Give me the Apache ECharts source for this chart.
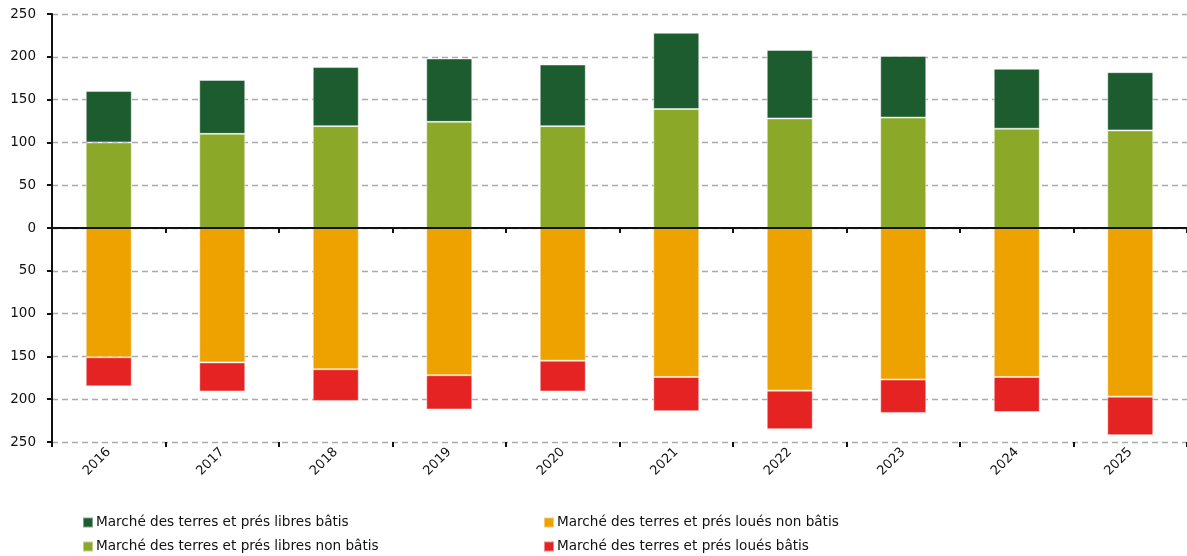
<!DOCTYPE html>
<html>
<head>
<meta charset="utf-8">
<script src="https://cdn.jsdelivr.net/npm/echarts@6/dist/echarts.min.js"></script>
<style>
  html, body { margin: 0; padding: 0; background: #fff; }
  #chart { width: 1187px; height: 556px; }
</style>
</head>
<body>
<div id="chart"></div>
<script>
// Années
const years = ['2016', '2017', '2018', '2019', '2020', '2021', '2022', '2023', '2024', '2025'];

// Marchés libres (au-dessus de zéro)
const libresNonBatis = [100, 110, 119, 124, 119, 139, 128, 129, 116, 114];
const libresBatis    = [60, 63, 69, 74, 72, 89, 80, 72, 70, 68];

// Marchés loués (en dessous de zéro)
const louesNonBatis = [-151, -157, -165, -172, -155, -174, -190, -177, -174, -197];
const louesBatis    = [-34, -34, -37, -40, -36, -40, -45, -39, -41, -45];

const names = {
  libresBatis: 'Marché des terres et prés libres bâtis',
  libresNonBatis: 'Marché des terres et prés libres non bâtis',
  louesNonBatis: 'Marché des terres et prés loués non bâtis',
  louesBatis: 'Marché des terres et prés loués bâtis'
};

const colors = {
  libresBatis: '#1C5C2E',
  libresNonBatis: '#8BA828',
  louesNonBatis: '#EEA200',
  louesBatis: '#E42322'
};

const FONT = 'DejaVu Sans';

function barSeries(key, data) {
  return {
    name: names[key],
    type: 'bar',
    stack: 'total',
    data: data,
    barWidth: 46,
    itemStyle: { color: colors[key], borderColor: 'rgba(255,255,255,0.45)', borderWidth: 1 },
    emphasis: { disabled: true }
  };
}

// one legend entry per block, laid out as two columns of two rows
function legendItem(key, left, top) {
  return {
    left: left, top: top, padding: 0,
    itemWidth: 10, itemHeight: 10, icon: 'rect',
    textStyle: { fontFamily: FONT, fontSize: 13.6, lineHeight: 15, color: '#111', padding: [0, 0, 0, -2] },
    data: [names[key]],
    selectedMode: false
  };
}

const chart = echarts.init(document.getElementById('chart'), null, { renderer: 'canvas' });

chart.setOption({
  animation: false,
  backgroundColor: '#fff',
  textStyle: { fontFamily: FONT },
  grid: { left: 52, right: -7, top: 14, bottom: 114, containLabel: false },
  legend: [
    legendItem('libresBatis', 82, 515),
    legendItem('libresNonBatis', 82, 539),
    legendItem('louesNonBatis', 543, 515),
    legendItem('louesBatis', 543, 539)
  ],
  xAxis: [
    {
      type: 'category',
      data: years,
      position: 'bottom',
      axisLine: { show: false, onZero: false },
      axisTick: { show: true, length: 5, lineStyle: { color: '#111', width: 2 } },
      axisLabel: { rotate: 45, fontSize: 13, color: '#111', margin: 8, fontFamily: FONT },
      splitLine: { show: false }
    },
    {
      type: 'category',
      data: years,
      position: 'bottom',
      axisLine: { show: true, onZero: true, lineStyle: { color: '#111', width: 2 } },
      axisTick: { show: true, length: 5, lineStyle: { color: '#111', width: 2 } },
      axisLabel: { show: false },
      splitLine: { show: false },
      z: 5
    }
  ],
  yAxis: {
    type: 'value',
    min: -250,
    max: 250,
    interval: 50,
    axisLine: { show: true, lineStyle: { color: '#111', width: 2 } },
    axisTick: { show: true, length: 5, lineStyle: { color: '#111', width: 2 } },
    axisLabel: {
      fontSize: 13.5, color: '#111', margin: 16, fontFamily: FONT,
      formatter: v => String(Math.abs(v))
    },
    splitLine: { show: true, lineStyle: { color: '#aaa', width: 1.3, type: [6, 4] } }
  },
  series: [
    barSeries('libresNonBatis', libresNonBatis),
    barSeries('libresBatis', libresBatis),
    barSeries('louesNonBatis', louesNonBatis),
    barSeries('louesBatis', louesBatis)
  ]
});
</script>
</body>
</html>
